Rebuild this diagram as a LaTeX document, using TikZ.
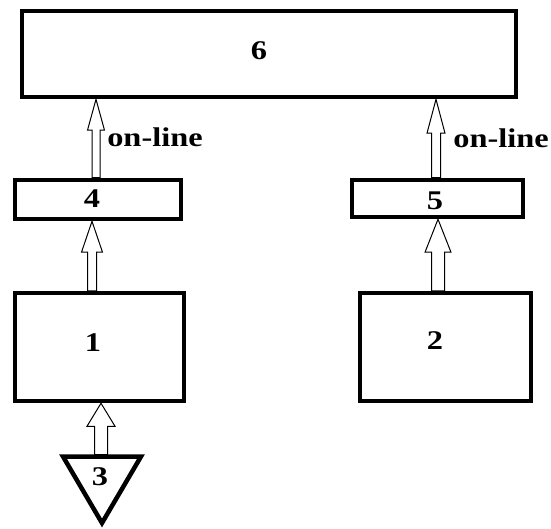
\documentclass[tikz,border=0pt]{standalone}
\usepackage{graphicx}
\usepackage{fontspec}
\setmainfont{Liberation Serif}
\usetikzlibrary{calc}
\newcommand\T[1]{\scalebox{1.2}[1]{#1}}
\newcommand\harrow[5]{\draw[arrowline] let \p1=#1, \p2=#2 in
  (\x1-#3,\y1) -- (\x1-#3,\y2-#5) -- (\x1-#4,\y2-#5) -- (\x1,\y2) --
  (\x1+#4,\y2-#5) -- (\x1+#3,\y2-#5) -- (\x1+#3,\y1) -- cycle;}
\tikzset{
  box/.style={draw, line width=4.5pt, rectangle, inner sep=0pt},
  lbl/.style={font=\fontsize{27}{30}\selectfont\bfseries, inner sep=0pt},
  arrowline/.style={draw=black, line width=1pt, fill=white, line join=miter},
}
\begin{document}
\begin{tikzpicture}[x=1pt,y=-1pt]
\useasboundingbox (0,0) rectangle (551,529);
% boxes
\node[box, minimum width=494pt, minimum height=86pt] (n6) at (269,54) {};
\node[box, minimum width=166pt, minimum height=39pt] (n4) at (98,199.5) {};
\node[box, minimum width=171pt, minimum height=37pt] (n5) at (437.5,198.5) {};
\node[box, minimum width=169pt, minimum height=108pt] (n1) at (99.5,347) {};
\node[box, minimum width=171pt, minimum height=108pt] (n2) at (445.5,347) {};
% triangle 3
\draw[line width=4.5pt, line join=miter] (63,456.5) -- (141,456.5) -- (102,523) -- cycle;
\coordinate (t3) at (101,454.5);
% labels
\node[lbl] (l6) at (259,51) {\T{6}};
\node[lbl] (l4) at (92,199) {\T{4}};
\node[lbl] (l5) at (435,201) {\T{5}};
\node[lbl] (l1) at (93,343) {\T{1}};
\node[lbl] (l2) at (435,341) {\T{2}};
\node[lbl] (l3) at (100,477) {\T{3}};
\node[lbl] (o1) at (155,137) {\T{on-line}};
\node[lbl] (o2) at (501,138) {\T{on-line}};
% hollow arrows
\harrow{([xshift=-2pt]n4.north)}{(n6.south)}{4pt}{8.5pt}{31pt}
\harrow{([xshift=-1.5pt]n5.north)}{(n6.south)}{4.5pt}{9pt}{34pt}
\harrow{([xshift=-7.5pt]n1.north)}{(n4.south)}{4.5pt}{10.5pt}{31pt}
\harrow{([xshift=-7.5pt]n2.north)}{(n5.south)}{6.5pt}{13pt}{33pt}
\harrow{(t3)}{(n1.south)}{6.5pt}{14pt}{23pt}
\end{tikzpicture}
\end{document}
